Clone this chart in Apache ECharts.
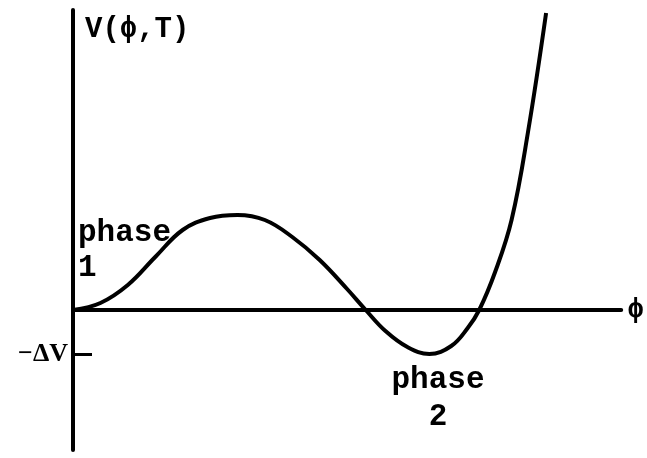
<!DOCTYPE html>
<html>
<head>
<meta charset="utf-8">
<script src="https://cdn.jsdelivr.net/npm/echarts@6/dist/echarts.min.js"></script>
<style>
  html, body { margin: 0; padding: 0; background: #fff; }
  #chart { width: 647px; height: 458px; }
</style>
</head>
<body>
<div id="chart"></div>
<script>
// Field value phi (arbitrary units) and potential V(phi, T)
const phi = [0, 5, 10, 15, 20, 25, 30, 35, 40, 45, 50, 53.4, 57, 61, 65, 69, 72, 74.1, 77, 80, 83, 86.3];
const V   = [0, 0.07, 0.25, 0.53, 0.80, 0.92, 0.95, 0.90, 0.73, 0.50, 0.21, 0, -0.21, -0.37, -0.44, -0.36, -0.18, 0,
             0.38, 0.90, 1.78, 2.97];
// Depth of the second minimum, marked on the vertical axis
const deltaV = -0.44;
const deltaVLabel = '\u2212\u0394V';

const mono = '"Liberation Mono", "DejaVu Sans Mono", monospace';
const chart = echarts.init(document.getElementById('chart'), null, { renderer: 'canvas' });

chart.setOption({
  animation: false,
  backgroundColor: '#fff',
  grid: { left: 73, right: 25, top: 10, bottom: 8 },
  xAxis: {
    type: 'value', min: 0, max: 100,
    name: '\u03d5', nameLocation: 'end', nameGap: 6,
    nameTextStyle: { fontFamily: mono, fontWeight: 'bold', fontSize: 28, color: '#000', verticalAlign: 'middle' },
    axisLine: { onZero: true, lineStyle: { color: '#000', width: 4 } },
    axisTick: { show: false }, axisLabel: { show: false }, splitLine: { show: false }
  },
  yAxis: {
    type: 'value', min: -1.4, max: 3.0,
    name: 'V(\u03d5,T)', nameLocation: 'end', nameGap: -34,
    nameTextStyle: { fontFamily: mono, fontWeight: 'bold', fontSize: 29, color: '#000', align: 'left', padding: [0, 0, 0, 12] },
    axisLine: { show: true, onZero: false, lineStyle: { color: '#000', width: 4 } },
    axisTick: { show: true, inside: true, length: 19, customValues: [deltaV], lineStyle: { color: '#000', width: 3 } },
    axisLabel: {
      show: true, customValues: [deltaV], margin: 5,
      formatter: () => deltaVLabel,
      fontFamily: '"Liberation Serif", "DejaVu Serif", serif', fontWeight: 'bold', fontSize: 26, color: '#000'
    },
    splitLine: { show: false }
  },
  series: [{
    type: 'line',
    data: phi.map((p, i) => [p, V[i]]),
    smooth: 0.4,
    symbol: 'none',
    lineStyle: { color: '#000', width: 4 }
  }],
  graphic: [
    {
      type: 'text', x: 78, y: 216,
      style: { text: 'phase\n1', fontFamily: mono, fontWeight: 'bold', fontSize: 31, lineHeight: 35, fill: '#000', align: 'left' }
    },
    {
      type: 'text', x: 438, y: 362,
      style: { text: 'phase\n2', fontFamily: mono, fontWeight: 'bold', fontSize: 31, lineHeight: 37, fill: '#000', align: 'center' }
    }
  ]
});
</script>
</body>
</html>
